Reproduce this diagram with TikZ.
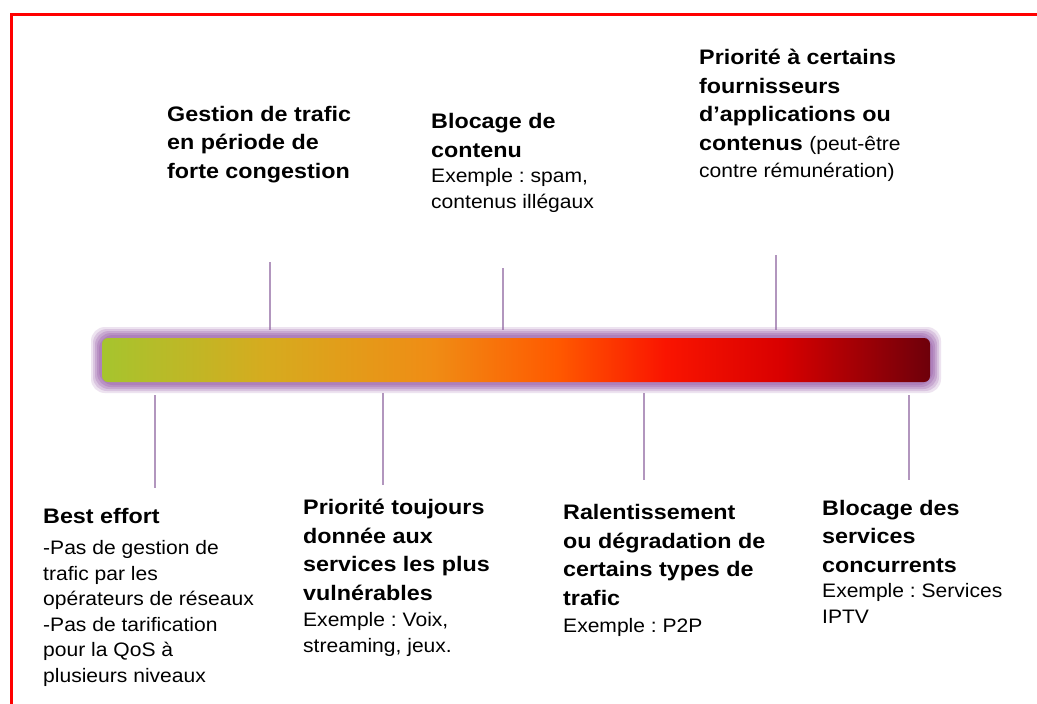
\documentclass[tikz,border=0pt]{standalone}
\usepackage{fontspec}
\setmainfont{Liberation Sans}
\newfontfamily\widefont[FakeStretch=1.08]{Liberation Sans}
\newfontfamily\headfont[FakeStretch=1.11]{Liberation Sans}
\usepackage{tikz}
\usetikzlibrary{positioning}
\frenchspacing

\definecolor{tickc}{RGB}{178,150,190}
\definecolor{glowc}{RGB}{160,105,175}
\pgfdeclarehorizontalshading{barshade}{100bp}{
    rgb(0bp)=(0.65,0.77,0.18);
    rgb(25bp)=(0.65,0.77,0.18);
    rgb(35bp)=(0.84,0.67,0.12);
    rgb(45bp)=(0.94,0.55,0.08);
    rgb(52.5bp)=(1,0.35,0);
    rgb(59bp)=(0.98,0.08,0);
    rgb(66bp)=(0.85,0,0);
    rgb(75bp)=(0.43,0,0.04);
    rgb(100bp)=(0.43,0,0.04)}

\begin{document}
\begin{tikzpicture}[x=1pt, y=-1pt,
        tick/.style={line width=1.8pt, color=tickc},
        head/.style={anchor=base west, inner sep=0, align=left,
            font=\headfont\bfseries\fontsize{21}{28.5}\selectfont},
        note/.style={anchor=base west, inner sep=0, align=left,
            font=\widefont\fontsize{19.5}{25.5}\selectfont}]
            \useasboundingbox [fill=white] (0, 0) rectangle (1037, 704);
            \draw [red, line width=3pt] (11, 720) -- (11, 14) -- (1050, 14);

            \coordinate (gestion top) at (270, 262);
            \coordinate (gestion bar) at (270, 330);
            \coordinate (contenu top) at (503, 268);
            \coordinate (contenu bar) at (503, 330);
            \coordinate (fournisseurs top) at (776, 255);
            \coordinate (fournisseurs bar) at (776, 330);
            \coordinate (effort bar) at (155, 395);
            \coordinate (effort bottom) at (155, 488);
            \coordinate (vulnerables bar) at (383, 393);
            \coordinate (vulnerables bottom) at (383, 485);
            \coordinate (trafic bar) at (644, 393);
            \coordinate (trafic bottom) at (644, 480);
            \coordinate (concurrents bar) at (909, 395);
            \coordinate (concurrents bottom) at (909, 480);
            \draw [tick] (gestion top) -- (gestion bar);
            \draw [tick] (contenu top) -- (contenu bar);
            \draw [tick] (fournisseurs top) -- (fournisseurs bar);
            \draw [tick] (effort bar) -- (effort bottom);
            \draw [tick] (vulnerables bar) -- (vulnerables bottom);
            \draw [tick] (trafic bar) -- (trafic bottom);
            \draw [tick] (concurrents bar) -- (concurrents bottom);

            \foreach \g/\o in {11/0.18, 9/0.24, 7/0.3, 5/0.36, 3/0.42}
                \fill [glowc, opacity=\o, rounded corners=14pt] (102-\g, 338-\g) rectangle (930+\g, 382+\g);
            \path [shading=barshade, rounded corners=6pt] (102, 338) rectangle (930, 382);

            \node [head] (gestion) at (167, 178) {Gestion de trafic\\en période de\\forte congestion};
            \node [head] (contenu) at (431, 157) {Blocage de\\contenu};
            \node [note] (contenu ex) at (431, 208) {Exemple : spam,\\contenus illégaux};
            \node [head] (fournisseurs) at (699, 150) {Priorité à certains\\fournisseurs\\d’applications ou\\contenus {\widefont\mdseries\fontsize{19.5}{25.5}\selectfont(peut-être}};
            \node [note] (fournisseurs ex) at (699, 177) {contre rémunération)};

            \node [head] (effort) at (43, 523) {Best effort};
            \node [note] (effort ex) at (43, 682) {-Pas de gestion de\\trafic par les\\opérateurs de réseaux\\-Pas de tarification\\pour la QoS à\\plusieurs niveaux};
            \node [head] (vulnerables) at (303, 600) {Priorité toujours\\donnée aux\\services les plus\\vulnérables};
            \node [note] (vulnerables ex) at (303, 652) {Exemple : Voix,\\streaming, jeux.};
            \node [head] (trafic) at (563, 605) {Ralentissement\\ou dégradation de\\certains types de\\trafic};
            \node [note] (trafic ex) at (563, 632) {Exemple : P2P};
            \node [head] (concurrents) at (822, 572) {Blocage des\\services\\concurrents};
            \node [note] (concurrents ex) at (822, 623) {Exemple : Services\\IPTV};
        \end{tikzpicture}
\end{document}
